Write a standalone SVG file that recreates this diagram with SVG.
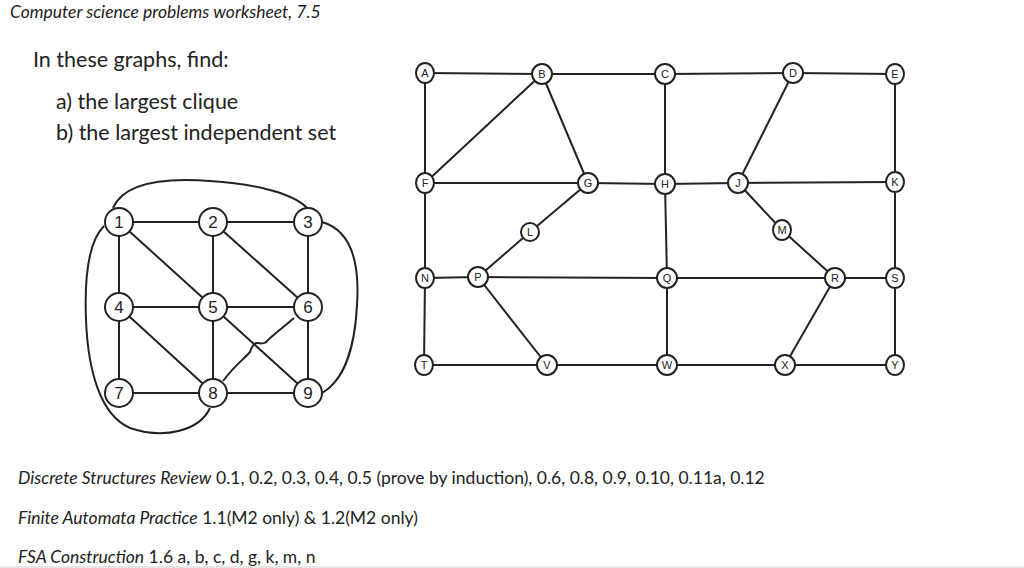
<svg xmlns="http://www.w3.org/2000/svg" width="1024" height="568" viewBox="0 0 1024 568">
<style>
.e line,.e path{stroke:#222;stroke-width:2;fill:none}
.h{stroke:#333;stroke-width:1.3;fill:none}
.n ellipse{fill:#fff;stroke:#222;stroke-width:2}
.s text{font-family:"Liberation Sans",Arial,sans-serif;font-size:11px;text-anchor:middle;dominant-baseline:central;fill:#222}
.b text{font-family:"Liberation Sans",Arial,sans-serif;font-size:17px;text-anchor:middle;dominant-baseline:central;fill:#222}
.t{font-family:Lato,"Open Sans",sans-serif;fill:#222}
</style>
<rect width="1024" height="568" fill="#fff"/>
<text class="t" x="10" y="18" font-size="17.5" font-style="italic">Computer science problems worksheet, 7.5</text>
<text class="t" x="33" y="67" font-size="21.5">In these graphs, find:</text>
<text class="t" x="56" y="109" font-size="21.5">a) the largest clique</text>
<text class="t" x="56" y="140" font-size="21.5">b) the largest independent set</text>
<text class="t" x="18" y="484" font-size="17.5"><tspan font-style="italic">Discrete Structures Review</tspan> 0.1, 0.2, 0.3, 0.4, 0.5 (prove by induction), 0.6, 0.8, 0.9, 0.10, 0.11a, 0.12</text>
<text class="t" x="18" y="524" font-size="17.5"><tspan font-style="italic">Finite Automata Practice</tspan> 1.1(M2 only) &amp; 1.2(M2 only)</text>
<text class="t" x="18" y="563" font-size="17.5"><tspan font-style="italic">FSA Construction</tspan> 1.6 a, b, c, d, g, k, m, n</text>
<line x1="0" y1="567" x2="1024" y2="567" stroke="#ccc"/>
<g id="connectors" class="e">
<line x1="425" y1="73" x2="542" y2="74"/><line x1="542" y1="74" x2="665" y2="74"/><line x1="665" y1="74" x2="793" y2="73"/><line x1="793" y1="73" x2="895" y2="74"/>
<line x1="425" y1="73" x2="425" y2="183"/><line x1="542" y1="74" x2="425" y2="183"/><line x1="542" y1="74" x2="588" y2="183"/><line x1="665" y1="74" x2="665" y2="184"/><line x1="793" y1="73" x2="738" y2="183"/><line x1="895" y1="74" x2="895" y2="182"/>
<line x1="425" y1="183" x2="588" y2="183"/><line x1="588" y1="183" x2="665" y2="184"/><line x1="665" y1="184" x2="738" y2="183"/><line x1="738" y1="183" x2="895" y2="182"/>
<line x1="588" y1="183" x2="530" y2="232"/><line x1="530" y1="232" x2="478" y2="277"/><line x1="665" y1="184" x2="667" y2="278"/><line x1="738" y1="183" x2="782" y2="230"/><line x1="782" y1="230" x2="835" y2="278"/>
<line x1="425" y1="183" x2="425" y2="278"/><line x1="895" y1="182" x2="895" y2="278"/>
<line x1="425" y1="278" x2="478" y2="277"/><line x1="478" y1="277" x2="667" y2="278"/><line x1="667" y1="278" x2="835" y2="278"/><line x1="835" y1="278" x2="895" y2="278"/>
<line x1="425" y1="278" x2="424" y2="365"/><line x1="478" y1="277" x2="547" y2="365"/><line x1="667" y1="278" x2="667" y2="365"/><line x1="835" y1="278" x2="785" y2="365"/><line x1="895" y1="278" x2="895" y2="365"/>
<line x1="424" y1="365" x2="547" y2="365"/><line x1="547" y1="365" x2="667" y2="365"/><line x1="667" y1="365" x2="785" y2="365"/><line x1="785" y1="365" x2="895" y2="365"/>
<line x1="119" y1="222" x2="308" y2="222"/><line x1="119" y1="307" x2="308" y2="307"/><line x1="119" y1="393" x2="308" y2="393"/>
<line x1="119" y1="222" x2="119" y2="393"/><line x1="213" y1="222" x2="213" y2="393"/><line x1="308" y1="222" x2="308" y2="393"/>
<line x1="119" y1="222" x2="213" y2="307"/><line x1="213" y1="222" x2="308" y2="307"/><line x1="119" y1="307" x2="213" y2="393"/><line x1="213" y1="307" x2="308" y2="393"/>
<path class="h" d="M223,381 C235,365 245,358 250,352 C252,346 254,342 258,343 C262,344 266,343 267,341 C275,333 285,326 294,318"/>
<path class="h" d="M113,208 C125,180 170,178 210,181 C260,184 295,195 307,208"/>
<path class="h" d="M322,222 C350,230 360,260 357,305 C355,345 345,380 322,393"/>
<path class="h" d="M104,226 C90,240 84,270 86,320 C88,370 100,415 130,428 C165,440 200,430 210,408"/>
</g>
<g class="n s">
<g id="A"><ellipse cx="425" cy="73" rx="9" ry="10"/><text x="425" y="73">A</text></g>
<g id="B"><ellipse cx="542" cy="74" rx="10" ry="10"/><text x="542" y="74">B</text></g>
<g id="C"><ellipse cx="665" cy="74" rx="10" ry="10"/><text x="665" y="74">C</text></g>
<g id="D"><ellipse cx="793" cy="73" rx="10" ry="10"/><text x="793" y="73">D</text></g>
<g id="E"><ellipse cx="895" cy="74" rx="9" ry="10"/><text x="895" y="74">E</text></g>
<g id="F"><ellipse cx="425" cy="183" rx="9" ry="10"/><text x="425" y="183">F</text></g>
<g id="G"><ellipse cx="588" cy="183" rx="10" ry="10"/><text x="588" y="183">G</text></g>
<g id="H"><ellipse cx="665" cy="184" rx="10" ry="10"/><text x="665" y="184">H</text></g>
<g id="J"><ellipse cx="738" cy="183" rx="10" ry="10"/><text x="738" y="183">J</text></g>
<g id="K"><ellipse cx="895" cy="182" rx="9" ry="10"/><text x="895" y="182">K</text></g>
<g id="L"><ellipse cx="530" cy="232" rx="9" ry="9"/><text x="530" y="232">L</text></g>
<g id="M"><ellipse cx="782" cy="230" rx="9" ry="10"/><text x="782" y="230">M</text></g>
<g id="N"><ellipse cx="425" cy="278" rx="9" ry="10"/><text x="425" y="278">N</text></g>
<g id="P"><ellipse cx="478" cy="277" rx="10" ry="10"/><text x="478" y="277">P</text></g>
<g id="Q"><ellipse cx="667" cy="278" rx="10" ry="10"/><text x="667" y="278">Q</text></g>
<g id="R"><ellipse cx="835" cy="278" rx="10" ry="10"/><text x="835" y="278">R</text></g>
<g id="S"><ellipse cx="895" cy="278" rx="9" ry="10"/><text x="895" y="278">S</text></g>
<g id="T"><ellipse cx="424" cy="365" rx="9" ry="10"/><text x="424" y="365">T</text></g>
<g id="V"><ellipse cx="547" cy="365" rx="10" ry="10"/><text x="547" y="365">V</text></g>
<g id="W"><ellipse cx="667" cy="365" rx="10" ry="10"/><text x="667" y="365">W</text></g>
<g id="X"><ellipse cx="785" cy="365" rx="10" ry="10"/><text x="785" y="365">X</text></g>
<g id="Y"><ellipse cx="895" cy="365" rx="9" ry="10"/><text x="895" y="365">Y</text></g>
</g>
<g class="n b">
<g id="n1"><ellipse cx="119" cy="222" rx="14" ry="14"/><text x="119" y="222">1</text></g>
<g id="n2"><ellipse cx="213" cy="222" rx="14" ry="14"/><text x="213" y="222">2</text></g>
<g id="n3"><ellipse cx="308" cy="222" rx="14" ry="14"/><text x="308" y="222">3</text></g>
<g id="n4"><ellipse cx="119" cy="307" rx="14" ry="14"/><text x="119" y="307">4</text></g>
<g id="n5"><ellipse cx="213" cy="307" rx="14" ry="14"/><text x="213" y="307">5</text></g>
<g id="n6"><ellipse cx="308" cy="307" rx="14" ry="14"/><text x="308" y="307">6</text></g>
<g id="n7"><ellipse cx="119" cy="393" rx="14" ry="14"/><text x="119" y="393">7</text></g>
<g id="n8"><ellipse cx="213" cy="393" rx="14" ry="14"/><text x="213" y="393">8</text></g>
<g id="n9"><ellipse cx="308" cy="393" rx="14" ry="14"/><text x="308" y="393">9</text></g>
</g>
</svg>
